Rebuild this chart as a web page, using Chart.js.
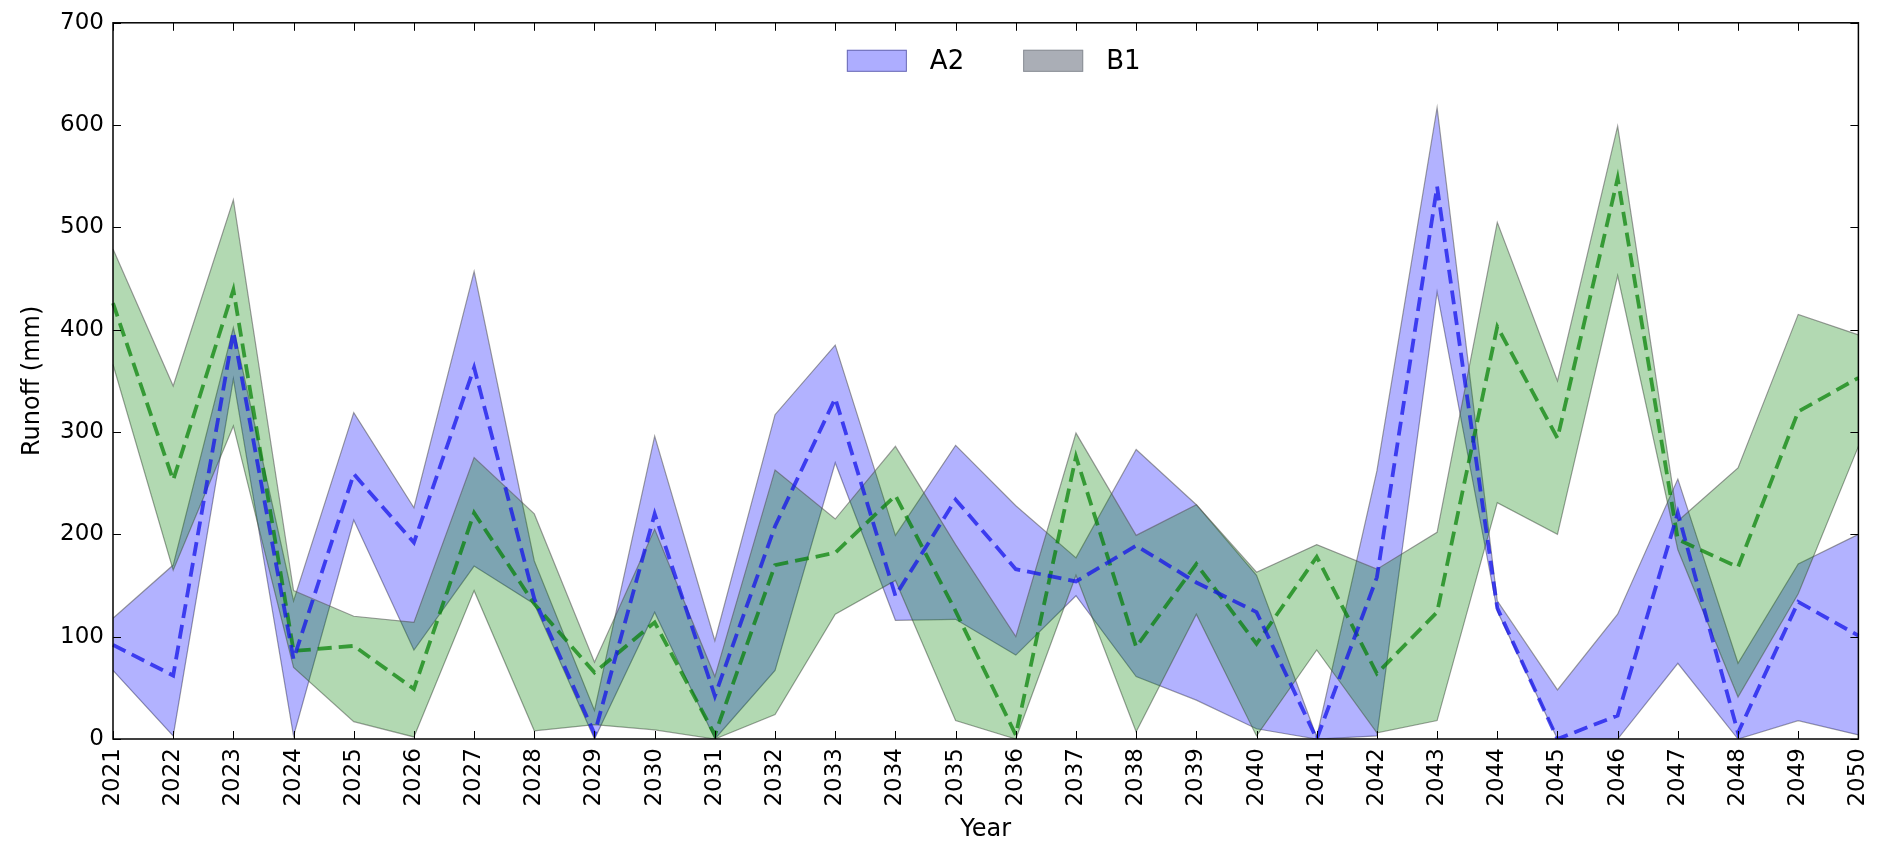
<!DOCTYPE html>
<html>
<head>
<meta charset="utf-8">
<script src="https://cdn.jsdelivr.net/npm/chart.js@4.4.0/dist/chart.umd.min.js"></script>
<style>
  html, body { margin: 0; padding: 0; background: #fff; }
  #wrap { width: 1895px; height: 844px; }
</style>
</head>
<body>
<div id="wrap"><canvas id="runoff"></canvas></div>
<script>
// years on the x axis
const years = ['2021','2022','2023','2024','2025','2026','2027','2028','2029','2030',
               '2031','2032','2033','2034','2035','2036','2037','2038','2039','2040',
               '2041','2042','2043','2044','2045','2046','2047','2048','2049','2050'];

// A2 scenario (blue band + dashed mean)
const a2Upper = [118,170,402,135,319,226,457,174,28,296,96,317,385,199,287,228,177,283,229,160,2,262,617,135,48,122,254,74,171,200];
const a2Lower = [67,3,352,3,214,87,169,132,0,124,0,67,270,116,117,82,140,61,38,10,0,3,437,125,0,0,74,0,18,4];
const a2Mean  = [92,62,398,78,259,192,363,137,5,220,42,208,333,140,234,166,154,189,153,124,0,158,540,128,0,23,221,6,134,101];

// B1 scenario (green band + dashed mean)
const b1Upper = [479,345,527,145,120,114,275,220,75,205,61,263,215,286,190,100,299,199,229,163,190,166,202,505,350,599,213,265,415,395];
const b1Lower = [366,165,306,70,17,2,145,8,14,9,0,24,122,155,18,0,160,7,122,3,87,6,18,231,200,453,185,41,142,286];
const b1Mean  = [426,253,439,86,91,49,221,132,65,114,4,170,182,238,125,4,276,90,171,93,178,64,124,403,294,548,195,168,320,353];

const yTicks = [0,100,200,300,400,500,600,700];

const FONT = '"DejaVu Sans", sans-serif';
const edge = 'rgba(80,80,80,0.55)';

// box + inward ticks like matplotlib
const frame = {
  id: 'frame',
  afterDatasetsDraw(chart) {
    const {ctx, chartArea: a, scales: {x, y}} = chart;
    ctx.save();
    ctx.strokeStyle = '#000';
    ctx.lineWidth = 1;
    ctx.beginPath();
    years.forEach((yr, i) => {
      const px = Math.round(x.getPixelForValue(i)) + 0.5;
      ctx.moveTo(px, a.bottom); ctx.lineTo(px, a.bottom - 8);
      ctx.moveTo(px, a.top); ctx.lineTo(px, a.top + 8);
    });
    yTicks.forEach(v => {
      const py = Math.round(y.getPixelForValue(v)) + 0.5;
      ctx.moveTo(a.left, py); ctx.lineTo(a.left + 8, py);
      ctx.moveTo(a.right, py); ctx.lineTo(a.right - 8, py);
    });
    ctx.stroke();
    ctx.lineWidth = 1.5;
    ctx.strokeRect(a.left, a.top, a.right - a.left, a.bottom - a.top);
    ctx.restore();
  }
};

// legend floating at top centre of the plot
const legendBox = {
  id: 'legendBox',
  afterDraw(chart) {
    const {ctx, chartArea: a} = chart;
    const items = [
      {text: 'A2', fill: 'rgba(0,0,255,0.32)', stroke: 'rgba(90,90,160,0.8)'},
      {text: 'B1', fill: '#aaaeb6', stroke: '#8c9098'}
    ];
    ctx.save();
    ctx.font = '26px ' + FONT;
    const boxW = 60, boxH = 22, gap = 23, between = 59;
    let total = 0;
    items.forEach((it, i) => {
      it.w = ctx.measureText(it.text).width;
      total += boxW + gap + it.w + (i ? between : 0);
    });
    let x0 = (a.left + a.right) / 2 - total / 2 + 8;
    const top = a.top + 27;
    items.forEach(it => {
      ctx.fillStyle = '#fff';
      ctx.fillRect(x0, top, boxW, boxH);
      ctx.fillStyle = it.fill;
      ctx.fillRect(x0, top, boxW, boxH);
      ctx.strokeStyle = it.stroke;
      ctx.lineWidth = 1;
      ctx.strokeRect(x0 + 0.5, top + 0.5, boxW - 1, boxH - 1);
      ctx.fillStyle = '#000';
      ctx.textBaseline = 'middle';
      ctx.fillText(it.text, x0 + boxW + gap, top + boxH / 2 + 1);
      x0 += boxW + gap + it.w + between;
    });
    ctx.restore();
  }
};

function band(data, color, fill, order) {
  return {
    data: data,
    borderColor: edge,
    borderWidth: 1.2,
    backgroundColor: color,
    fill: fill,
    pointRadius: 0,
    tension: 0,
    order: order
  };
}

function meanLine(data, color) {
  return {
    data: data,
    borderColor: color,
    borderWidth: 3.8,
    borderDash: [14, 7],
    borderCapStyle: 'butt',
    fill: false,
    pointRadius: 0,
    tension: 0,
    order: 0
  };
}

new Chart(document.getElementById('runoff'), {
  type: 'line',
  data: {
    labels: years,
    datasets: [
      meanLine(a2Mean, 'rgba(20,20,235,0.75)'),
      meanLine(b1Mean, 'rgba(0,128,0,0.7)'),
      band(b1Upper, 'rgba(0,128,0,0.3)', '+1', 1),
      band(b1Lower, 'rgba(0,128,0,0.3)', false, 1),
      band(a2Upper, 'rgba(0,0,255,0.3)', '+1', 2),
      band(a2Lower, 'rgba(0,0,255,0.3)', false, 2)
    ]
  },
  options: {
    responsive: true,
    maintainAspectRatio: false,
    animation: false,
    devicePixelRatio: 1,
    layout: { padding: {top: 20, right: 17, bottom: 0, left: 0} },
    plugins: {
      legend: { display: false },
      tooltip: { enabled: false }
    },
    scales: {
      x: {
        type: 'category',
        offset: false,
        grid: { display: false, drawTicks: false },
        border: { display: false },
        ticks: {
          autoSkip: false,
          minRotation: 90,
          maxRotation: 90,
          padding: 9,
          color: '#000',
          font: { family: FONT, size: 23 }
        },
        title: {
          display: true,
          text: 'Year',
          color: '#000',
          font: { family: FONT, size: 24 },
          padding: {top: 1, bottom: 0}
        },
        afterFit(s) { s.height = 105; }
      },
      y: {
        min: 0,
        max: 700,
        grid: { display: false, drawTicks: false },
        border: { display: false },
        ticks: {
          stepSize: 100,
          padding: 9,
          color: '#000',
          font: { family: FONT, size: 23 }
        },
        title: {
          display: true,
          text: 'Runoff (mm)',
          color: '#000',
          font: { family: FONT, size: 24 },
          padding: {top: 18, bottom: 0}
        },
        afterFit(s) { s.width = 113; }
      }
    }
  },
  plugins: [frame, legendBox]
});
</script>
</body>
</html>
